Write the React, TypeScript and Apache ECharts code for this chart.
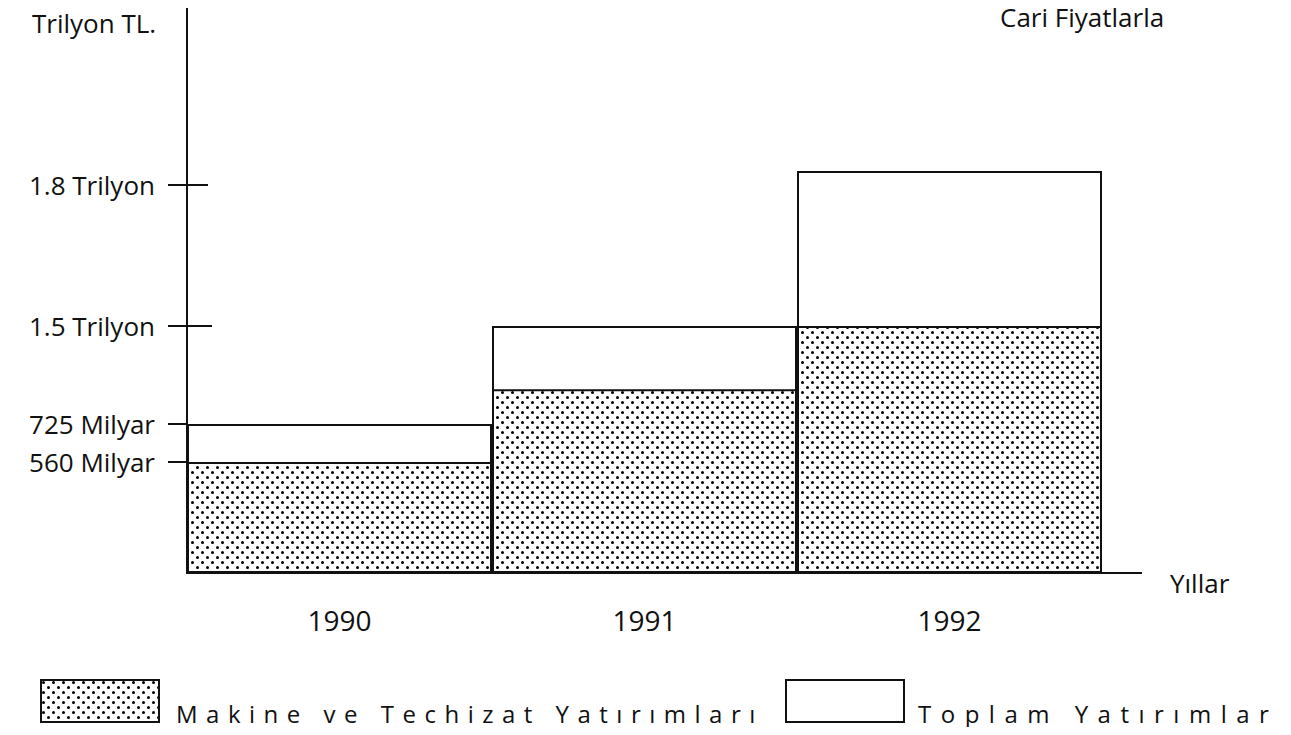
import React, { useEffect, useRef } from "react";
import * as echarts from "echarts";

// ---- data (trilyon TL, current prices) ----
const years = ["1990", "1991", "1992"];
const makineYatirimlari = [0.56, 1.0, 1.5];
const toplamYatirimlar = [0.725, 1.5, 1.83];
const tickValues = [0.56, 0.725, 1.5, 1.8];
const tickLabels = ["560 Milyar", "725 Milyar", "1.5 Trilyon", "1.8 Trilyon"];
const seriesNames = ["Makine ve Techizat Yatırımları", "Toplam Yatırımlar"];
const unitLabel = "Trilyon TL.";
const priceNote = "Cari Fiyatlarla";
const xAxisName = "Yıllar";

// The original drawing uses a schematic (non-linear) vertical scale.
// Anchors: [value in trilyon, axis unit]
const schematicScale: [number, number][] = [
  [0, 0],
  [0.56, 111],
  [0.725, 149],
  [1.5, 247],
  [1.8, 388],
  [2.5, 717],
];
const AXIS_MAX = 568;

function toAxis(v: number): number {
  for (let i = 1; i < schematicScale.length; i++) {
    const [v0, a0] = schematicScale[i - 1];
    const [v1, a1] = schematicScale[i];
    if (v <= v1) return a0 + ((v - v0) / (v1 - v0)) * (a1 - a0);
  }
  return schematicScale[schematicScale.length - 1][1];
}

const FONT = "'Open Sans', 'DejaVu Sans', sans-serif";
const INK = "#111";

function makeDotPattern(): HTMLCanvasElement {
  const c = document.createElement("canvas");
  c.width = 10;
  c.height = 10;
  const ctx = c.getContext("2d")!;
  ctx.fillStyle = "#ffffff";
  ctx.fillRect(0, 0, 10, 10);
  ctx.fillStyle = "#000000";
  ctx.beginPath();
  ctx.arc(2.5, 2.5, 1.5, 0, Math.PI * 2);
  ctx.fill();
  ctx.beginPath();
  ctx.arc(7.5, 7.5, 1.5, 0, Math.PI * 2);
  ctx.fill();
  return c;
}

const legendRich = {
  s: { width: 0, height: 48, lineHeight: 48 },
  t: { fontFamily: FONT, fontSize: 24, color: INK, lineHeight: 26, verticalAlign: "bottom" },
};

export default function App() {
  const ref = useRef<HTMLDivElement>(null);

  useEffect(() => {
    if (!ref.current) return;
    const chart = echarts.init(ref.current, undefined, { renderer: "svg" });
    const pattern = { image: makeDotPattern(), repeat: "repeat" } as any;
    const innerTick = [0, 0, 25, 21];

    chart.setOption({
      animation: false,
      backgroundColor: "#ffffff",
      textStyle: { fontFamily: FONT, color: INK },
      grid: { left: 187, right: 189, top: 5, bottom: 162, containLabel: false },
      xAxis: {
        type: "category",
        data: years,
        name: xAxisName,
        nameLocation: "end",
        nameGap: 68,
        nameTextStyle: {
          fontFamily: FONT,
          fontSize: 26,
          color: INK,
          align: "left",
          verticalAlign: "top",
          lineHeight: 20,
        },
        axisLine: { show: true, lineStyle: { color: INK, width: 2 } },
        axisTick: { show: false },
        axisLabel: { fontFamily: FONT, fontSize: 28, color: INK, margin: 33 },
        splitLine: { show: false },
      },
      yAxis: {
        type: "value",
        min: 0,
        max: AXIS_MAX,
        axisLine: { show: true, lineStyle: { color: INK, width: 2 } },
        axisTick: { show: false },
        splitLine: { show: false },
        axisLabel: {
          customValues: tickValues.map(toAxis),
          fontFamily: FONT,
          fontSize: 26,
          color: INK,
          margin: 32,
          padding: [0, 0, 6, 0],
          formatter: (val: number) => {
            let best = 0;
            let d = Infinity;
            tickValues.forEach((t, i) => {
              const dd = Math.abs(toAxis(t) - val);
              if (dd < d) {
                d = dd;
                best = i;
              }
            });
            return tickLabels[best];
          },
        },
      },
      legend: [
        {
          data: [{ name: seriesNames[0], icon: "rect" }],
          left: 35,
          top: 672,
          itemWidth: 118,
          itemHeight: 42,
          selectedMode: false,
          formatter: "{s|}{t|{name}}",
          textStyle: { fontFamily: FONT, fontSize: 24, color: INK, padding: [0, 0, 0, 12], rich: legendRich },
        },
        {
          data: [{ name: seriesNames[1], icon: "rect" }],
          left: 780,
          top: 672,
          itemWidth: 118,
          itemHeight: 42,
          selectedMode: false,
          formatter: "{s|}{t|{name}}",
          textStyle: { fontFamily: FONT, fontSize: 24, color: INK, padding: [0, 0, 0, 9], rich: legendRich },
        },
      ],
      graphic: [
        {
          type: "text",
          left: 32,
          top: 10,
          style: { text: unitLabel, font: `26px ${FONT}`, fill: INK },
        },
        {
          type: "text",
          left: 1000,
          top: 4,
          style: { text: priceNote, font: `26px ${FONT}`, fill: INK },
        },
        {
          type: "line",
          shape: { x1: 1100, y1: 573, x2: 1142, y2: 573 },
          style: { stroke: INK, lineWidth: 2 },
        },
      ],
      series: [
        {
          name: seriesNames[1],
          type: "bar",
          data: toplamYatirimlar.map(toAxis),
          barWidth: "100%",
          barGap: "-100%",
          barCategoryGap: 0,
          itemStyle: { color: "#ffffff", borderColor: INK, borderWidth: 2 },
          z: 2,
        },
        {
          name: seriesNames[0],
          type: "bar",
          data: makineYatirimlari.map(toAxis),
          barWidth: "100%",
          barGap: "-100%",
          barCategoryGap: 0,
          itemStyle: { color: pattern, borderColor: INK, borderWidth: 2 },
          z: 3,
        },
        {
          type: "custom",
          name: "ticks",
          clip: false,
          z: 4,
          silent: true,
          data: tickValues.map((v) => [0, toAxis(v)]),
          renderItem: (params: any, api: any) => {
            const y = api.coord([0, api.value(1)])[1];
            const x0 = params.coordSys.x;
            return {
              type: "line",
              shape: { x1: x0 - 19, y1: y, x2: x0 + innerTick[params.dataIndex], y2: y },
              style: { stroke: INK, lineWidth: 2 },
            };
          },
        },
      ],
    });

    const spacing: Record<string, string> = {
      [seriesNames[0]]: "8.5px",
      [seriesNames[1]]: "9.5px",
    };
    ref.current.querySelectorAll("text").forEach((t) => {
      const s = spacing[(t.textContent || "").trim()];
      if (s) (t as SVGTextElement).style.letterSpacing = s;
    });

    return () => chart.dispose();
  }, []);

  return <div ref={ref} style={{ width: 1291, height: 735, margin: -8 }} />;
}
